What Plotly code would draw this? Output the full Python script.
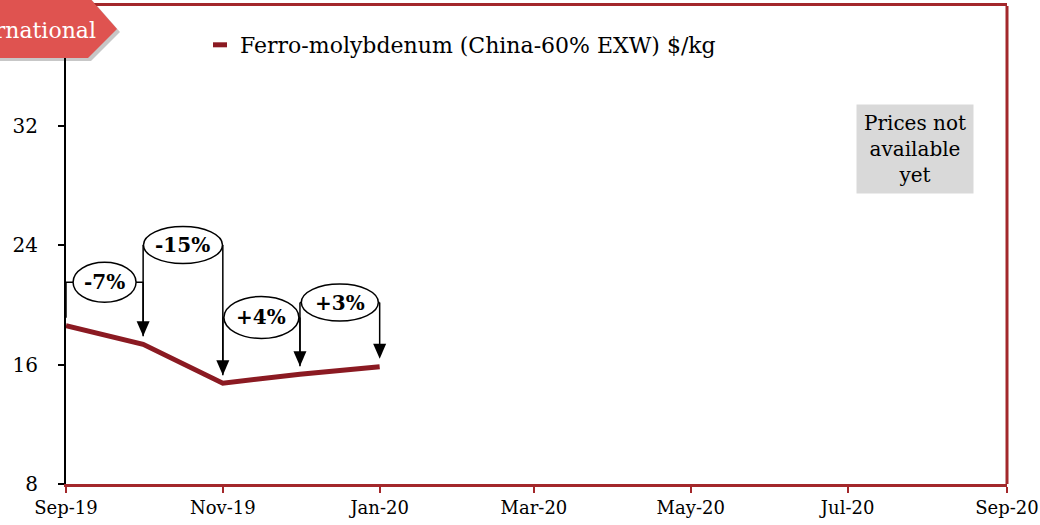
import plotly.graph_objects as go
import pandas as pd

# ---------------- data ----------------
months = ["2019-09-01", "2019-10-01", "2019-11-01", "2019-12-01", "2020-01-01"]
prices = [18.6, 17.35, 14.75, 15.35, 15.85]
series_name = "Ferro-molybdenum (China-60% EXW) $/kg"
x_tickvals = ["2019-09-01", "2019-11-01", "2020-01-01", "2020-03-01",
              "2020-05-01", "2020-07-01", "2020-09-01"]
x_range = ["2019-09-01", "2020-09-01"]
y_tickvals = [8, 16, 24, 32]
note_text = "Prices not<br>available<br>yet"
banner_text = "International"

# ---------------- layout constants ----------------
W, H = 1040, 525
L, R, T, B = 66, 33, 6, 41
PW, PH = W - L - R, H - T - B
YMIN, YMAX = 8, 40
PPU = PH / (YMAX - YMIN)  # pixels per y unit

DARK = "#8B1A22"
AXRED = "#A3282B"
BANNER = "#DF5350"
FONT = "DejaVu Serif"

def px(xp):
    return (xp - L) / PW

def py(yp):
    return (H - B - yp) / PH

# callout styling (positions of the bubbles)
callout_levels = [21.5, 24.0, 19.15, 20.15]
callout_w = [63, 79, 75, 77]
callout_h = [40, 37, 42, 37]
TIP_GAP = 8      # px between arrow tip and line
HEAD_LEN = 15    # px arrowhead length
HEAD_W = 13      # px arrowhead width

fig = go.Figure()
fig.add_trace(go.Scatter(
    x=months, y=prices, mode="lines",
    line=dict(color=DARK, width=5), showlegend=False, hoverinfo="skip"))
# legend entry (short thick dash)
fig.add_trace(go.Scatter(
    x=[None], y=[None], mode="markers", name=series_name,
    marker=dict(symbol="line-ew", size=10, color=DARK,
                line=dict(width=5, color=DARK))))

shapes = []
annotations = []
dates = [pd.Timestamp(m) for m in months]
blk = dict(color="black", width=1.5)
for i in range(len(prices) - 1):
    xa, xb = dates[i], dates[i + 1]
    mid = (xa + (xb - xa) / 2).strftime("%Y-%m-%d %H:%M:%S")
    xa_s, xb_s = xa.strftime("%Y-%m-%d"), xb.strftime("%Y-%m-%d")
    lvl = callout_levels[i]
    pct = round((prices[i + 1] / prices[i] - 1) * 100)
    label = f"{pct:+d}%"
    # connectors
    shapes.append(dict(type="line", xref="x", yref="y", x0=xa_s, x1=xb_s,
                       y0=lvl, y1=lvl, line=blk, layer="above"))
    shapes.append(dict(type="line", xref="x", yref="y", x0=xa_s, x1=xa_s,
                       y0=lvl, y1=prices[i] + TIP_GAP / PPU, line=blk, layer="above"))
    shapes.append(dict(type="line", xref="x", yref="y", x0=xb_s, x1=xb_s,
                       y0=lvl, y1=prices[i + 1] + (TIP_GAP + HEAD_LEN - 1) / PPU,
                       line=blk, layer="above"))
    # arrowhead
    shapes.append(dict(type="path", xref="x", yref="y",
                       xsizemode="pixel", ysizemode="pixel",
                       xanchor=xb_s, yanchor=prices[i + 1],
                       path=f"M{-HEAD_W/2},{TIP_GAP+HEAD_LEN} L{HEAD_W/2},{TIP_GAP+HEAD_LEN} L0,{TIP_GAP} Z",
                       fillcolor="black", line=dict(width=0), layer="above"))
    # ellipse bubble
    shapes.append(dict(type="circle", xref="x", yref="y",
                       xsizemode="pixel", ysizemode="pixel",
                       xanchor=mid, yanchor=lvl,
                       x0=-callout_w[i] / 2, x1=callout_w[i] / 2,
                       y0=-callout_h[i] / 2, y1=callout_h[i] / 2,
                       fillcolor="white", line=blk, layer="above"))
    annotations.append(dict(x=mid, y=lvl, xref="x", yref="y", text=f"<b>{label}</b>",
                            showarrow=False, font=dict(family=FONT, size=20, color="black")))

# right border
shapes.append(dict(type="line", xref="paper", yref="paper", x0=1, x1=1, y0=0, y1=1,
                   line=dict(color=AXRED, width=3), layer="above"))

# banner (top-left tab)
def poly(pts, dx=0, dy=0):
    return "M" + " L".join(f"{px(x+dx):.5f},{py(y+dy):.5f}" for x, y in pts) + " Z"

banner_pts = [(-4, -4), (88, -4), (117, 29), (88, 58), (-4, 58)]
shapes.append(dict(type="path", xref="paper", yref="paper", path=poly(banner_pts, 3, 3),
                   fillcolor="rgba(0,0,0,0.22)", line=dict(width=0), layer="above"))
shapes.append(dict(type="path", xref="paper", yref="paper", path=poly(banner_pts),
                   fillcolor=BANNER, line=dict(width=0), layer="above"))
annotations.append(dict(x=px(98), y=py(30), xref="paper", yref="paper", xanchor="right",
                        yanchor="middle", text=banner_text, showarrow=False,
                        font=dict(family=FONT, size=22, color="white")))

# "Prices not available yet" note
annotations.append(dict(x=px(915), y=py(149), xref="paper", yref="paper",
                        xanchor="center", yanchor="middle", text=note_text,
                        showarrow=False, bgcolor="#D9D9D9", width=116, height=88,
                        borderpad=0, align="center",
                        font=dict(family=FONT, size=20, color="black")))

fig.update_layout(
    width=W, height=H,
    margin=dict(l=L, r=R, t=T, b=B, autoexpand=False),
    paper_bgcolor="white", plot_bgcolor="white",
    font=dict(family=FONT, size=18, color="black"),
    shapes=shapes, annotations=annotations,
    showlegend=True,
    legend=dict(x=px(200), y=py(45), xanchor="left", yanchor="middle",
                bgcolor="rgba(0,0,0,0)", font=dict(family=FONT, size=22, color="black")),
    xaxis=dict(type="date", range=x_range, tickvals=x_tickvals, tickformat="%b-%y",
               showgrid=False, zeroline=False, showline=True, linecolor=AXRED,
               linewidth=2.5, mirror=True, ticks="outside", ticklen=6, tickcolor=AXRED,
               tickwidth=1.5, automargin=False,
               tickfont=dict(family=FONT, size=18, color="black")),
    yaxis=dict(range=[YMIN, YMAX], tickvals=y_tickvals, showgrid=False, zeroline=False,
               showline=True, linecolor="black", linewidth=2, ticks="outside",
               ticklen=6, tickcolor="black", tickwidth=1.5, ticklabelstandoff=16,
               automargin=False, tickfont=dict(family=FONT, size=20, color="black")),
)

fig.write_html("out.html", config={"displayModeBar": False},
               post_script="document.body.style.margin='0';")
